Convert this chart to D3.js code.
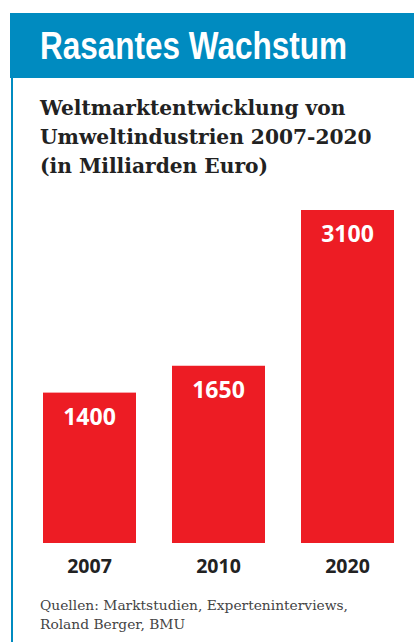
<!DOCTYPE html>
<html>
<head>
<meta charset="utf-8">
<script src="https://cdn.jsdelivr.net/npm/d3@7"></script>
<style>
  body { margin: 0; background: #fff; }
</style>
</head>
<body>
<div id="chart"></div>
<script>
// chart values
const years = ["2007", "2010", "2020"];
const values = [1400, 1650, 3100];
const titleText = "Rasantes Wachstum";
const subtitleLines = ["Weltmarktentwicklung von", "Umweltindustrien 2007-2020", "(in Milliarden Euro)"];
const sourceLines = ["Quellen: Marktstudien, Experteninterviews,", "Roland Berger, BMU"];

const width = 414;
const height = 642;
const margin = {left: 43, right: 20, top: 210, bottom: 99};
const blue = "#008bc0";
const red = "#ed1c24";

const svg = d3.select("#chart")
  .append("svg")
  .attr("width", width)
  .attr("height", height);

// header band and left rule
svg.append("rect")
  .attr("x", 10).attr("y", 13)
  .attr("width", width - 10).attr("height", 65)
  .attr("fill", blue);

svg.append("rect")
  .attr("x", 11).attr("y", 78)
  .attr("width", 2).attr("height", height - 78)
  .attr("fill", blue);

// condensed headline: squeeze a bold sans to the narrow width
svg.append("text")
  .attr("x", 40).attr("y", 59)
  .attr("fill", "#fff")
  .attr("textLength", 307)
  .attr("lengthAdjust", "spacingAndGlyphs")
  .style("font-family", "'Liberation Sans', Arial, sans-serif")
  .style("font-weight", "bold")
  .style("font-size", "38px")
  .text(titleText);

// subtitle
svg.append("g").selectAll("text")
  .data(subtitleLines)
  .enter()
  .append("text")
    .attr("x", 40)
    .attr("y", (d, i) => 115 + i * 29)
    .attr("fill", "#222")
    .style("font-family", "'DejaVu Serif', serif")
    .style("font-weight", "bold")
    .style("font-size", "20.2px")
    .text(d => d);

// scales
const yScale = d3.scaleLinear()
  .domain([0, d3.max(values)])
  .range([height - margin.bottom, margin.top]);

const xScale = d3.scaleBand()
  .domain(years)
  .range([margin.left, width - margin.right])
  .paddingInner(36 / 129)
  .paddingOuter(0);

const data = years.map((y, i) => ({year: y, value: values[i]}));

// bars
svg.selectAll(".bar")
  .data(data)
  .enter()
  .append("rect")
    .attr("class", "bar")
    .attr("x", d => xScale(d.year))
    .attr("y", d => yScale(d.value))
    .attr("width", xScale.bandwidth())
    .attr("height", d => yScale(0) - yScale(d.value))
    .attr("fill", red);

// value labels
svg.selectAll(".val")
  .data(data)
  .enter()
  .append("text")
    .attr("class", "val")
    .attr("x", d => xScale(d.year) + xScale.bandwidth() / 2)
    .attr("y", d => yScale(d.value) + 32)
    .attr("text-anchor", "middle")
    .attr("fill", "#fff")
    .style("font-family", "'Open Sans', sans-serif")
    .style("font-weight", "bold")
    .style("font-size", "23px")
    .text(d => d.value);

// x axis labels
const xAxis = svg.append("g")
  .attr("transform", `translate(0,${height - margin.bottom})`)
  .call(d3.axisBottom(xScale).tickSize(0).tickPadding(16));

xAxis.select(".domain").remove();
xAxis.selectAll("text")
  .attr("fill", "#222")
  .style("font-family", "'Open Sans', sans-serif")
  .style("font-weight", "bold")
  .style("font-size", "19.5px");

// source
svg.append("g").selectAll("text")
  .data(sourceLines)
  .enter()
  .append("text")
    .attr("x", 40)
    .attr("y", (d, i) => 610 + i * 19)
    .attr("fill", "#444")
    .style("font-family", "'DejaVu Serif', serif")
    .style("font-size", "13.8px")
    .text(d => d);
</script>
</body>
</html>
